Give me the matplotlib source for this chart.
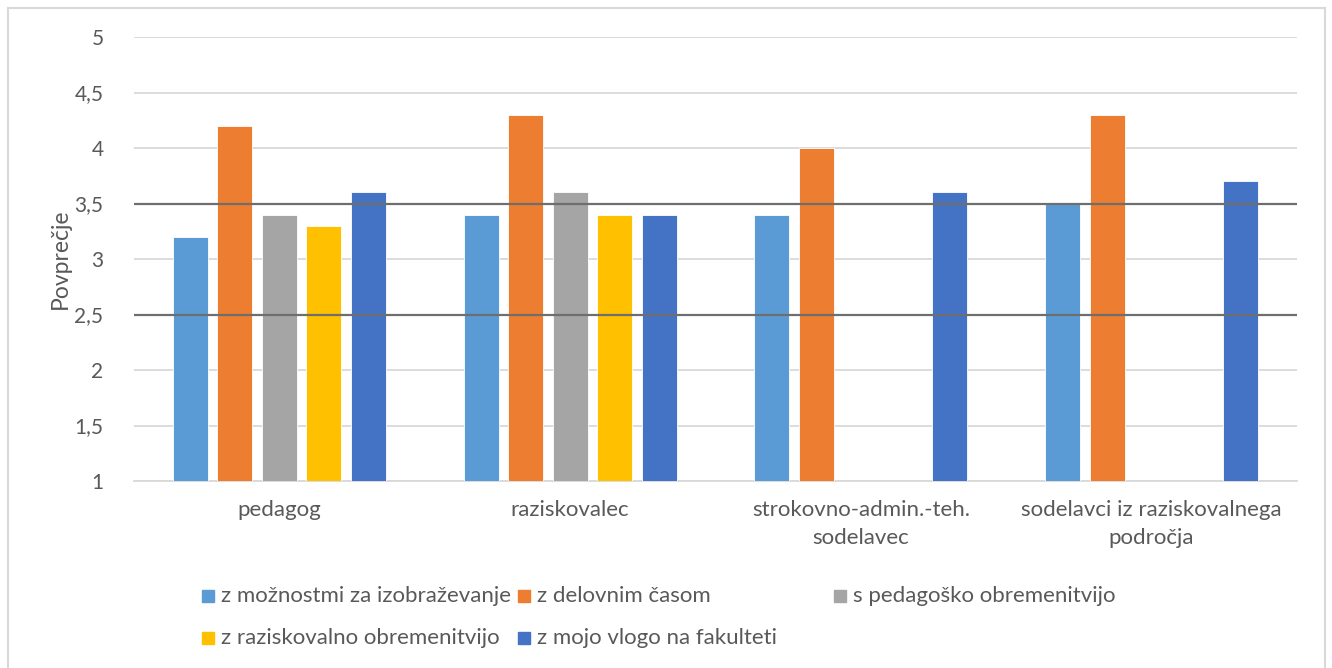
import matplotlib
matplotlib.use("Agg")
import matplotlib.pyplot as plt
import numpy as np
from matplotlib.patches import Rectangle
from matplotlib.lines import Line2D

categories = ["pedagog", "raziskovalec", "strokovno-admin.-teh.\nsodelavec",
              "sodelavci iz raziskovalnega\npodročja"]
series_names = ["z možnostmi za izobraževanje", "z delovnim časom",
                "s pedagoško obremenitvijo", "z raziskovalno obremenitvijo",
                "z mojo vlogo na fakulteti"]
s_moznosti = [3.2, 3.4, 3.4, 3.5]
s_cas = [4.2, 4.3, 4.0, 4.3]
s_pedag = [3.4, 3.6, np.nan, np.nan]
s_razisk = [3.3, 3.4, np.nan, np.nan]
s_vloga = [3.6, 3.4, 3.6, 3.7]
series = [s_moznosti, s_cas, s_pedag, s_razisk, s_vloga]
colors = ["#5B9BD5", "#ED7D31", "#A5A5A5", "#FFC000", "#4472C4"]
ref_lines = [3.5, 2.5]
yticks = [1, 1.5, 2, 2.5, 3, 3.5, 4, 4.5, 5]
ytick_labels = ["1", "1,5", "2", "2,5", "3", "3,5", "4", "4,5", "5"]

plt.rcParams['font.family'] = ['Lato', 'DejaVu Sans']
W, H = 1332, 668
fig = plt.figure(figsize=(W / 100, H / 100), dpi=100)
fig.patch.set_facecolor("white")

# plot area in pixels: x 134..1297, y 37..481
x0, x1, ytop, ybot = 134, 1297, 37, 481
ax = fig.add_axes([x0 / W, 1 - ybot / H, (x1 - x0) / W, (ybot - ytop) / H])
ax.set_xlim(-0.5, len(categories) - 0.5)
ax.set_ylim(1, 5)

x = np.arange(len(categories))
slot = 0.153
bw = 0.12
for i, (vals, c) in enumerate(zip(series, colors)):
    ax.bar(x + (i - 2) * slot, np.array(vals) - 1, bottom=1, width=bw, color=c,
           edgecolor="white", linewidth=0.6, zorder=3, label=series_names[i])

ax.set_yticks(yticks)
ax.set_yticklabels(ytick_labels)
ax.set_xticks(x)
ax.set_xticklabels(categories, linespacing=1.45)
ax.tick_params(axis="both", length=0, colors="#595959")
ax.tick_params(axis="y", pad=22, labelsize=15)
ax.tick_params(axis="x", pad=14, labelsize=16)
ax.grid(axis="y", color="#D9D9D9", linewidth=1.3, zorder=0)
for s in ["top", "right", "left"]:
    ax.spines[s].set_visible(False)
ax.spines["bottom"].set_color("#D9D9D9")
ax.spines["bottom"].set_linewidth(1.3)
fig.text(60 / W, 1 - 259 / H, "Povprečje", color="#595959", fontsize=16.5,
         rotation=90, ha="center", va="center")

for v in ref_lines:
    ax.axhline(v, xmin=0.0, xmax=1.0, color="#6E6E6E", linewidth=1.6, zorder=5)

# legend drawn manually
def legend_item(px, py, color, text):
    fig.patches.append(Rectangle((px / W, 1 - (py + 6) / H), 12 / W, 12 / H,
                                 transform=fig.transFigure, color=color))
    fig.text((px + 19) / W, 1 - py / H, text, fontsize=16, color="#595959",
             va="center", ha="left")

legend_item(202, 596, colors[0], series_names[0])
legend_item(518, 596, colors[1], series_names[1])
legend_item(834, 596, colors[2], series_names[2])
legend_item(202, 638, colors[3], series_names[3])
legend_item(518, 638, colors[4], series_names[4])

# chart border (open at bottom)
bc = "#D9D9D9"
fig.lines.append(Line2D([8 / W, 8 / W], [0, 1 - 8 / H], transform=fig.transFigure, color=bc, lw=1.5))
fig.lines.append(Line2D([8 / W, 1325 / W], [1 - 8 / H, 1 - 8 / H], transform=fig.transFigure, color=bc, lw=1.5))
fig.lines.append(Line2D([1325 / W, 1325 / W], [0, 1 - 8 / H], transform=fig.transFigure, color=bc, lw=1.5))

fig.savefig("out.png", dpi=100)
